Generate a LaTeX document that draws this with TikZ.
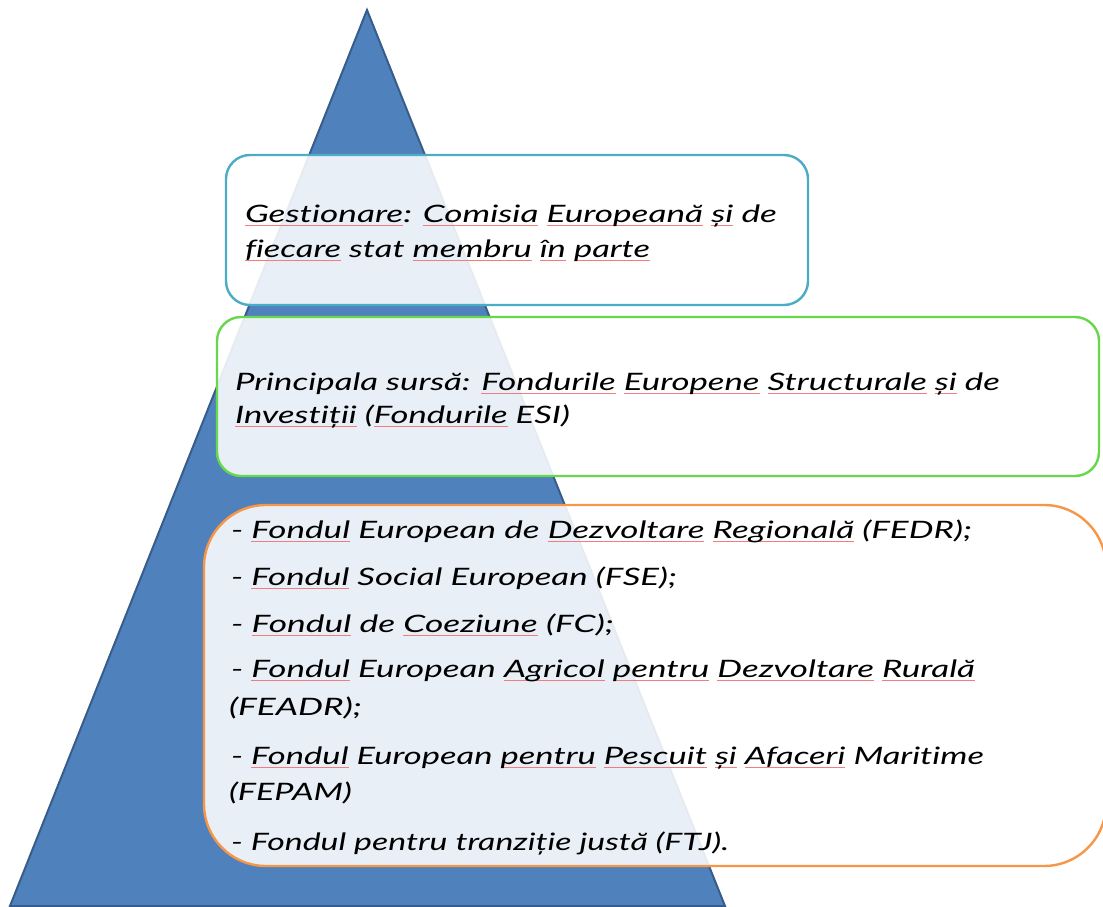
\documentclass[tikz,border=0pt]{standalone}
\usepackage{fontspec}
\setmainfont{Lato}[RawFeature={-liga;-clig;-dlig;-calt}]
\usepackage{graphicx}
\definecolor{trifill}{HTML}{4F81BD}
\definecolor{tridraw}{HTML}{385D8A}
\definecolor{aquaedge}{HTML}{4BACC6}
\definecolor{greenedge}{HTML}{66D84A}
\definecolor{orangeedge}{HTML}{F79646}
\definecolor{sqcol}{HTML}{F47C7C}
\newbox\sqbox
\newcommand{\sq}[1]{\leavevmode\setbox\sqbox\hbox{#1}\rlap{\color{sqcol}\vrule width \wd\sqbox height -3pt depth 4pt}\box\sqbox}
\newcommand{\tline}[2]{\resizebox{#1}{\height}{\fontsize{24}{28}\selectfont\itshape #2}}
\tikzset{
  panel/.style={line width=2.4pt, fill=white, fill opacity=0.88},
  txt/.style={anchor=base west, inner sep=0pt, outer sep=0pt, text=black}
}
\begin{document}
\begin{tikzpicture}[x=1pt,y=-1pt]
\useasboundingbox (0,0) rectangle (1103,907);
% pyramid
\draw[fill=trifill, draw=tridraw, line width=2pt, line join=miter] (367,10) -- (725,906) -- (10,906) -- cycle;
% panels
\draw[panel, draw=aquaedge, rounded corners=24pt] (226,155) rectangle (808,305);
\draw[panel, draw=greenedge, rounded corners=24pt] (217,317) rectangle (1099,476);
\draw[panel, draw=orangeedge, rounded corners=62pt] (204,505) rectangle (1106,866);
% texts box 1
\node[txt] (g1) at (245,222) {\tline{532pt}{\sq{Gestionare}: \sq{Comisia} \sq{Europeană} \sq{și} de}};
\node[txt] (g2) at (245,257) {\tline{405pt}{\sq{fiecare} stat \sq{membru} \sq{în} \sq{parte}}};
% texts box 2
\node[txt] (p1) at (235,390) {\tline{765pt}{Principala sursă: \sq{Fondurile} \sq{Europene} \sq{Structurale} \sq{și} de}};
\node[txt] (p2) at (235,423) {\tline{335pt}{\sq{Investiții} (\sq{Fondurile} ESI)}};
% texts box 3
\node[txt] (f1) at (231,538) {\tline{741pt}{- \sq{Fondul} European de \sq{Dezvoltare} \sq{Regională} (FEDR);}};
\node[txt] (f2) at (231,585) {\tline{446pt}{- \sq{Fondul} Social European (FSE);}};
\node[txt] (f3) at (231,632) {\tline{383pt}{- \sq{Fondul} de \sq{Coeziune} (FC);}};
\node[txt] (f4) at (231,677) {\tline{744pt}{- \sq{Fondul} European \sq{Agricol} \sq{pentru} \sq{Dezvoltare} \sq{Rurală}}};
\node[txt] (f5) at (229,715) {\tline{133pt}{(FEADR);}};
\node[txt] (f6) at (231,764) {\tline{753pt}{- \sq{Fondul} European \sq{pentru} \sq{Pescuit} \sq{și} \sq{Afaceri} Maritime}};
\node[txt] (f7) at (229,800) {\tline{123pt}{(FEPAM)}};
\node[txt] (f8) at (231,850) {\tline{498pt}{- Fondul pentru tranziție justă (FTJ).}};
\end{tikzpicture}
\end{document}
